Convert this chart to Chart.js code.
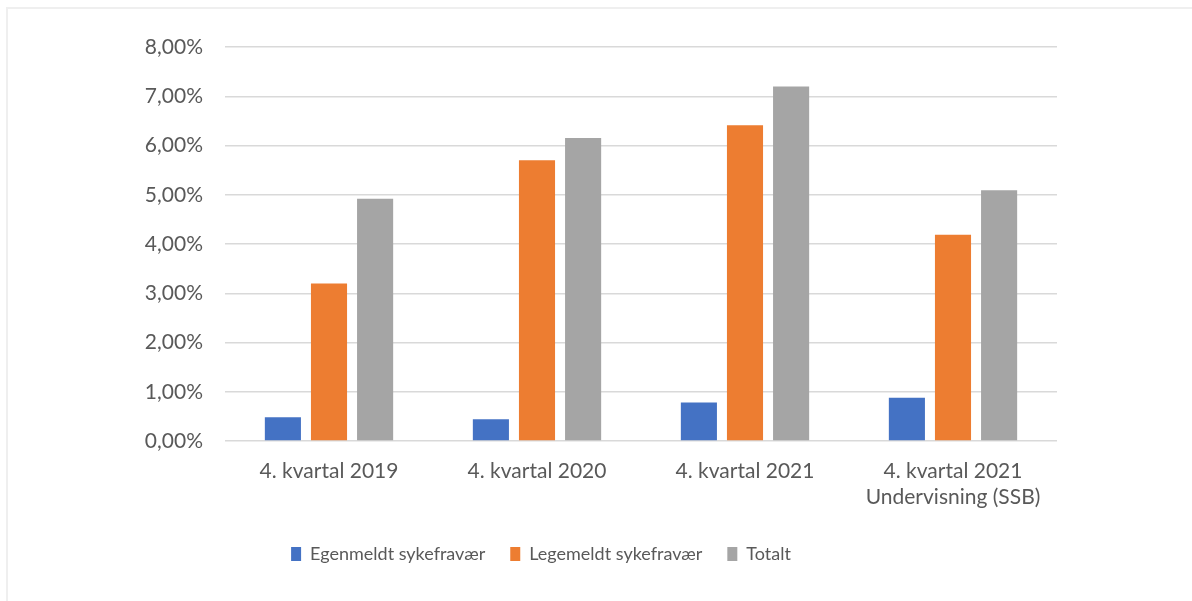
<!DOCTYPE html>
<html>
<head>
<meta charset="utf-8">
<script src="https://cdn.jsdelivr.net/npm/chart.js@4/dist/chart.umd.min.js"></script>
<style>
  html, body { margin: 0; padding: 0; background: #ffffff; }
  #wrap { position: relative; width: 1192px; height: 601px; overflow: hidden; }
  #frame { position: absolute; left: 6px; top: 7px; width: 1300px; height: 700px;
           border-left: 2px solid #efefef; border-top: 2px solid #efefef; box-sizing: border-box; }
  canvas { position: absolute; left: 0; top: 0; }
</style>
</head>
<body>
<div id="wrap">
  <div id="frame"></div>
  <canvas id="c" width="1192" height="601"></canvas>
</div>
<script>
// ---- data ----
const categories = [
  "4. kvartal 2019",
  "4. kvartal 2020",
  "4. kvartal 2021",
  ["4. kvartal 2021", "Undervisning (SSB)"]
];
const seriesNames = ["Egenmeldt sykefravær", "Legemeldt sykefravær", "Totalt"];
const egenmeldt = [0.48, 0.44, 0.78, 0.88];
const legemeldt = [3.20, 5.70, 6.41, 4.19];
const totalt    = [4.92, 6.15, 7.20, 5.09];
const yMin = 0, yMax = 8, yStep = 1;

const colors = ["#4472C4", "#ED7D31", "#A5A5A5"];
const fontFamily = "Lato, 'Open Sans', sans-serif";
const textColor = "#595959";

const ctx = document.getElementById("c");
new Chart(ctx, {
  type: "bar",
  data: {
    labels: categories,
    datasets: [
      { label: seriesNames[0], data: egenmeldt, backgroundColor: colors[0] },
      { label: seriesNames[1], data: legemeldt, backgroundColor: colors[1] },
      { label: seriesNames[2], data: totalt,    backgroundColor: colors[2] }
    ]
  },
  options: {
    responsive: false,
    animation: false,
    devicePixelRatio: 1,
    datasets: { bar: { categoryPercentage: 0.665, barPercentage: 0.783 } },
    layout: { padding: { left: 25, right: 135, top: 47, bottom: 28 } },
    plugins: {
      tooltip: { enabled: false },
      legend: {
        position: "bottom",
        labels: {
          boxWidth: 10,
          boxHeight: 14,
          padding: 25,
          color: textColor,
          font: { family: fontFamily, size: 18 }
        }
      }
    },
    scales: {
      x: {
        grid: { display: false, drawTicks: false },
        border: { display: false },
        ticks: {
          color: textColor,
          padding: 18,
          maxRotation: 0,
          autoSkip: false,
          font: { family: fontFamily, size: 21, lineHeight: 1.2 }
        },
        afterFit: (axis) => { axis.height = 79; }
      },
      y: {
        min: yMin, max: yMax,
        grid: { color: "#d9d9d9", lineWidth: 1.5, drawTicks: false },
        border: { display: false },
        ticks: {
          stepSize: yStep,
          color: textColor,
          padding: 22,
          font: { family: fontFamily, size: 21 },
          callback: (v) => v.toFixed(2).replace(".", ",") + "%"
        },
        afterFit: (axis) => { axis.width = 200; }
      }
    }
  }
});
</script>
</body>
</html>
